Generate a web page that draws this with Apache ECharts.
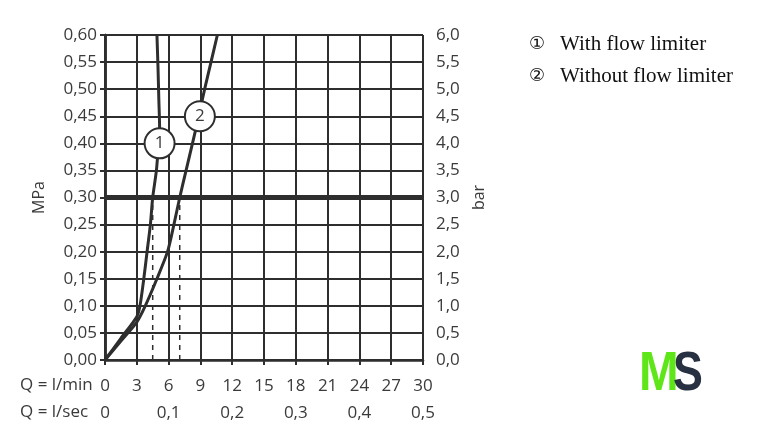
<!DOCTYPE html>
<html>
<head>
<meta charset="utf-8">
<script src="https://cdn.jsdelivr.net/npm/echarts@6/dist/echarts.min.js"></script>
<style>
html,body{margin:0;padding:0;background:#fff;}
#chart{width:758px;height:447px;}
</style>
</head>
<body>
<div id="chart"></div>
<script>
// Flow (l/min) and pressure (MPa) readings
var curve1Q = [0, 1.5, 3.0, 3.3, 3.66, 3.97, 4.28, 4.5, 4.85, 5.05, 5.15, 5.08, 5.0, 4.9];
var curve1P = [0, 0.04, 0.08, 0.10, 0.15, 0.20, 0.25, 0.30, 0.35, 0.40, 0.43, 0.48, 0.54, 0.60];
var curve2Q = [0, 1.5, 3.0, 3.8, 4.9, 5.9, 6.5, 7.05, 7.65, 8.55, 9.4, 10.0, 10.6];
var curve2P = [0, 0.035, 0.07, 0.10, 0.15, 0.20, 0.25, 0.30, 0.35, 0.425, 0.50, 0.55, 0.60];
var markerQ = [5.15, 8.95];
var markerP = [0.40, 0.45];
var markerLabels = ['1', '2'];
var dashedQ = [4.5, 7.05];
var referencePressure = 0.30;
var legendMarks = ['\u2460', '\u2461'];
var legendTexts = ['With flow limiter', 'Without flow limiter'];

function pairs(xs, ys){ return xs.map(function(x,i){ return [x, ys[i]]; }); }
function comma(v, d){ return v.toFixed(d).replace('.', ','); }

var ink = '#2e2e2e';
var txt = '#3a3a3a';
var font = 'Open Sans';
var fs = 17;

var series = [
  { type:'line', data: pairs(curve1Q, curve1P), smooth:0.25, symbol:'none',
    lineStyle:{color:ink, width:3}, z:5 },
  { type:'line', data: pairs(curve2Q, curve2P), smooth:0.25, symbol:'none',
    lineStyle:{color:ink, width:3}, z:5 },
  { type:'line', data: [[0, referencePressure],[30, referencePressure]], symbol:'none',
    lineStyle:{color:ink, width:5}, z:4 }
];
dashedQ.forEach(function(q){
  series.push({ type:'line', data:[[q,0],[q,referencePressure]], symbol:'none',
    lineStyle:{color:ink, width:1.5, type:[5,5]}, z:3 });
});
series.push({ type:'scatter', data: pairs(markerQ, markerP), symbolSize:30, z:10,
  itemStyle:{color:'#fff', borderColor:ink, borderWidth:2, opacity:1},
  label:{show:true, position:'inside', formatter:function(p){ return markerLabels[p.dataIndex]; },
    color:txt, fontSize:17, fontFamily:font} });

var chart = echarts.init(document.getElementById('chart'));
chart.setOption({
  animation:false,
  backgroundColor:'#fff',
  grid:{left:105, right:335, top:35, bottom:87},
  xAxis:[
    { type:'value', min:0, max:30, interval:3, position:'bottom',
      axisLine:{show:true, lineStyle:{color:ink, width:2.5}},
      axisTick:{show:true, length:5, lineStyle:{color:ink, width:2}},
      axisLabel:{color:txt, fontSize:fs, fontFamily:font, margin:18},
      splitLine:{show:true, lineStyle:{color:ink, width:2}} },
    { type:'value', min:0, max:30, interval:6, position:'bottom', offset:27,
      axisLine:{show:false}, axisTick:{show:false}, splitLine:{show:false},
      axisLabel:{color:txt, fontSize:fs, fontFamily:font, margin:18,
        formatter:function(v){ return v === 0 ? '0' : comma(v/60, 1); }} }
  ],
  yAxis:[
    { type:'value', min:0, max:0.6, interval:0.05,
      name:'MPa', nameLocation:'middle', nameGap:58, nameRotate:90,
      nameTextStyle:{color:txt, fontSize:16, fontFamily:font},
      axisLine:{show:true, lineStyle:{color:ink, width:2.5}},
      axisTick:{show:true, length:5, lineStyle:{color:ink, width:2}},
      axisLabel:{color:txt, fontSize:fs, fontFamily:font, margin:8,
        formatter:function(v){ return comma(v, 2); }},
      splitLine:{show:true, lineStyle:{color:ink, width:2}} },
    { type:'value', min:0, max:6, interval:0.5, position:'right',
      name:'bar', nameLocation:'middle', nameGap:48, nameRotate:90,
      nameTextStyle:{color:txt, fontSize:16, fontFamily:font},
      axisLine:{show:true, lineStyle:{color:ink, width:2.5}},
      axisTick:{show:true, length:5, lineStyle:{color:ink, width:2}},
      axisLabel:{color:txt, fontSize:fs, fontFamily:font, margin:13,
        formatter:function(v){ return comma(v, 1); }},
      splitLine:{show:false} }
  ],
  series: series,
  graphic:[
    { type:'text', left:20, top:377, style:{text:'Q = l/min', fill:txt, fontSize:fs, fontFamily:font} },
    { type:'text', left:20, top:404, style:{text:'Q = l/sec', fill:txt, fontSize:fs, fontFamily:font} },
    { type:'text', x:529, y:44, style:{text:legendMarks[0], fill:'#111', fontSize:18, fontFamily:'DejaVu Sans', textVerticalAlign:'middle'} },
    { type:'text', x:529, y:76, style:{text:legendMarks[1], fill:'#111', fontSize:18, fontFamily:'DejaVu Sans', textVerticalAlign:'middle'} },
    { type:'text', x:560, y:44, style:{text:legendTexts[0], fill:'#111', fontSize:21, fontFamily:'Liberation Serif', textVerticalAlign:'middle'} },
    { type:'text', x:560, y:76, style:{text:legendTexts[1], fill:'#111', fontSize:21, fontFamily:'Liberation Serif', textVerticalAlign:'middle'} },
    { type:'text', x:639, y:347, scaleX:0.85, style:{text:'M', fill:'#5fe619', fontSize:56, fontWeight:'bold', fontFamily:'Liberation Sans', textAlign:'left', textVerticalAlign:'top'} },
    { type:'text', x:673, y:347, scaleX:0.8, style:{text:'S', fill:'#283142', fontSize:56, fontWeight:'bold', fontFamily:'Liberation Sans', textAlign:'left', textVerticalAlign:'top'} }
  ]
});
</script>
</body>
</html>
